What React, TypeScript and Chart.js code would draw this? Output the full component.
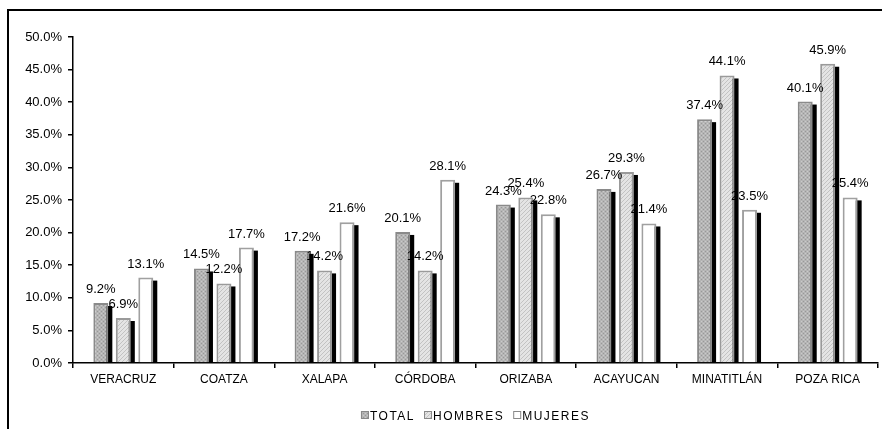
import React, { useEffect, useRef } from 'react';
import { Chart, registerables } from 'chart.js';

Chart.register(...registerables);

const categories = ['VERACRUZ', 'COATZA', 'XALAPA', 'CÓRDOBA', 'ORIZABA', 'ACAYUCAN', 'MINATITLÁN', 'POZA RICA'];
const seriesNames = ['TOTAL', 'HOMBRES', 'MUJERES'];
const totalValues = [9.2, 14.5, 17.2, 20.1, 24.3, 26.7, 37.4, 40.1];
const hombresValues = [6.9, 12.2, 14.2, 14.2, 25.4, 29.3, 44.1, 45.9];
const mujeresValues = [13.1, 17.7, 21.6, 28.1, 22.8, 21.4, 23.5, 25.4];
const yMin = 0;
const yMax = 50;
const yStep = 5;

const FONT = '"Liberation Sans", Arial, sans-serif';

function makePattern(kind: string): CanvasPattern | string {
  if (kind === 'white') return '#ffffff';
  const c = document.createElement('canvas');
  c.width = 4;
  c.height = 4;
  const g = c.getContext('2d')!;
  if (kind === 'dots') {
    g.fillStyle = '#b5b5b5';
    g.fillRect(0, 0, 4, 4);
    g.fillStyle = '#989898';
    g.fillRect(0, 0, 1, 1);
    g.fillRect(2, 2, 1, 1);
    g.fillStyle = '#cacaca';
    g.fillRect(2, 0, 1, 1);
    g.fillRect(0, 2, 1, 1);
  } else {
    g.fillStyle = '#e4e4e4';
    g.fillRect(0, 0, 4, 4);
    g.fillStyle = '#c2c2c2';
    for (let i = 0; i < 4; i++) g.fillRect(i, 3 - i, 1, 1);
  }
  const p = g.createPattern(c, 'repeat');
  return p || '#cccccc';
}

const shadowPlugin = {
  id: 'barShadow',
  beforeDatasetsDraw(chart: any) {
    const ctx = chart.ctx;
    ctx.save();
    ctx.fillStyle = '#000';
    chart.data.datasets.forEach((_: any, di: number) => {
      const meta = chart.getDatasetMeta(di);
      meta.data.forEach((el: any) => {
        const p = el.getProps(['x', 'y', 'width', 'base'], true);
        const h = p.base - p.y - 3;
        if (h > 0) ctx.fillRect(p.x - p.width / 2 + 4, p.y + 3, p.width, h);
      });
    });
    ctx.restore();
  },
};

const labelPlugin = {
  id: 'valueLabels',
  afterDatasetsDraw(chart: any) {
    const ctx = chart.ctx;
    ctx.save();
    ctx.font = `13px ${FONT}`;
    ctx.fillStyle = '#000';
    ctx.textAlign = 'center';
    ctx.textBaseline = 'alphabetic';
    chart.data.datasets.forEach((ds: any, di: number) => {
      const meta = chart.getDatasetMeta(di);
      meta.data.forEach((el: any, i: number) => {
        const p = el.getProps(['x', 'y'], true);
        ctx.fillText(ds.data[i].toFixed(1) + '%', p.x, p.y - 10);
      });
    });
    ctx.restore();
  },
};

const legendPlugin = {
  id: 'customLegend',
  afterDraw(chart: any) {
    const ctx = chart.ctx;
    const area = chart.chartArea;
    ctx.save();
    ctx.font = `12px ${FONT}`;
    try { (ctx as any).letterSpacing = '1.5px'; } catch (e) {}
    const box = 8;
    const gapBoxText = 1;
    const gapItems = 9;
    const widths = chart.data.datasets.map((ds: any) => ctx.measureText(ds.label).width);
    let total = 0;
    widths.forEach((w: number, i: number) => {
      total += box + gapBoxText + w + (i < widths.length - 1 ? gapItems : 0);
    });
    let x = (area.left + area.right) / 2 - total / 2;
    const cy = 404;
    chart.data.datasets.forEach((ds: any, i: number) => {
      ctx.fillStyle = ds.backgroundColor;
      ctx.fillRect(x, cy - box / 2, box, box);
      ctx.strokeStyle = '#888';
      ctx.lineWidth = 1;
      ctx.strokeRect(x + 0.5, cy - box / 2 + 0.5, box - 1, box - 1);
      ctx.fillStyle = '#000';
      ctx.textAlign = 'left';
      ctx.textBaseline = 'alphabetic';
      ctx.fillText(ds.label, x + box + gapBoxText, cy + 4.5);
      x += box + gapBoxText + widths[i] + gapItems;
    });
    ctx.restore();
  },
};

export default function App() {
  const ref = useRef<HTMLCanvasElement | null>(null);

  useEffect(() => {
    if (!ref.current) return;
    const fills = [makePattern('dots'), makePattern('hatch'), makePattern('white')];
    const borders = ['#8a8a8a', '#9a9a9a', '#a0a0a0'];
    const values = [totalValues, hombresValues, mujeresValues];
    const chart = new Chart(ref.current, {
      type: 'bar',
      data: {
        labels: categories,
        datasets: seriesNames.map((name, i) => ({
          label: name,
          data: values[i],
          backgroundColor: fills[i] as any,
          borderColor: borders[i],
          borderWidth: 2,
          borderSkipped: 'bottom',
          barPercentage: 0.667,
          categoryPercentage: 0.67,
        })),
      },
      options: {
        animation: false,
        responsive: false,
        maintainAspectRatio: false,
        events: [],
        layout: { padding: { left: 0, top: 26, right: 65, bottom: 30 } },
        plugins: {
          legend: { display: false },
          tooltip: { enabled: false },
          title: { display: false },
        },
        scales: {
          x: {
            afterFit: (s: any) => { s.height = 38; },
            grid: {
              display: true,
              drawOnChartArea: false,
              drawTicks: true,
              tickLength: 5,
              color: '#000',
              lineWidth: 1.5,
              offset: true,
            },
            border: { display: true, color: '#000', width: 1.5 },
            ticks: {
              color: '#000',
              font: { family: FONT, size: 12 },
              padding: 4,
              maxRotation: 0,
              autoSkip: false,
            },
          },
          y: {
            min: yMin,
            max: yMax,
            afterFit: (s: any) => { s.width = 64; },
            grid: {
              display: true,
              drawOnChartArea: false,
              drawTicks: true,
              tickLength: 5,
              color: '#000',
              lineWidth: 1.5,
            },
            border: { display: true, color: '#000', width: 1.5 },
            ticks: {
              stepSize: yStep,
              color: '#000',
              font: { family: FONT, size: 13 },
              padding: 6,
              callback: (v: any) => Number(v).toFixed(1) + '%',
            },
          },
        },
      },
      plugins: [shadowPlugin, labelPlugin, legendPlugin],
    });
    return () => chart.destroy();
  }, []);

  return (
    <div style={{ position: 'fixed', left: 0, top: 0, width: 882, height: 429, overflow: 'hidden', background: '#fff' }}>
      <div style={{ position: 'absolute', left: 7, top: 9, width: 934, height: 440, border: '2px solid #000', background: '#fff' }}>
        <canvas ref={ref} width={934} height={420} style={{ position: 'absolute', left: 0, top: 0, width: 934, height: 420 }} />
      </div>
    </div>
  );
}
